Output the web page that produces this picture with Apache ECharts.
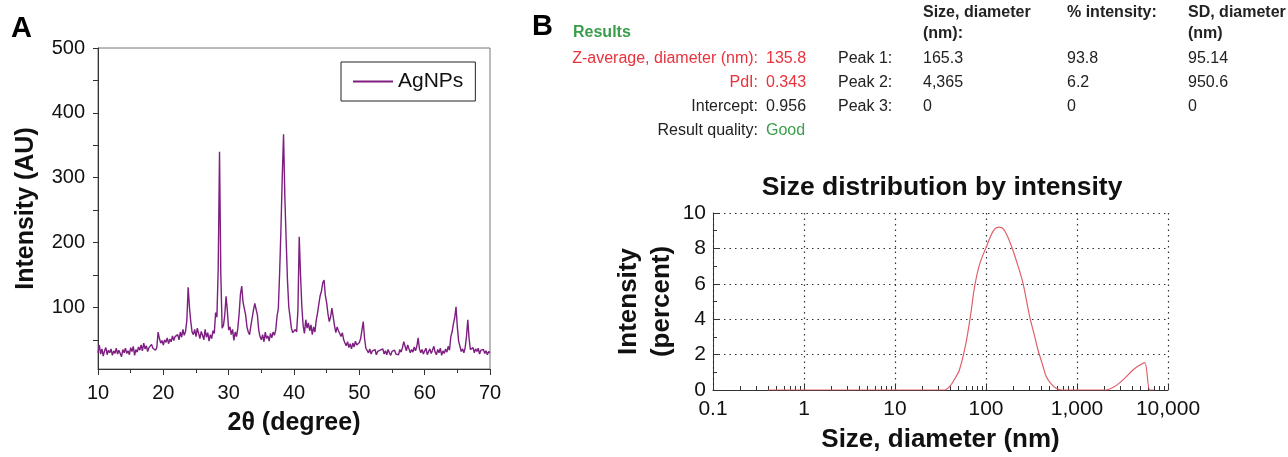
<!DOCTYPE html>
<html>
<head>
<meta charset="utf-8">
<script src="https://cdn.jsdelivr.net/npm/echarts@6/dist/echarts.min.js"></script>
<style>
  html, body { margin: 0; padding: 0; background: #fff; }
  #main { width: 1288px; height: 457px; }
</style>
</head>
<body>
<div id="main"></div>
<script>
// panel A: XRD pattern, one value every 0.2 degree from 10 to 70
var xrdStart = 10;
var xrdStep = 0.2;
var xrdIntensity = [
  30, 42, 28, 36, 25,   33, 38, 27, 34, 30,   // 10-11
  36, 26, 33, 29, 37,   28, 34, 31, 24, 35,   // 12-13
  30, 37, 29, 33, 27,   38, 32, 40, 26, 35,   // 14-15
  31, 39, 34, 42, 33,   45, 36, 41, 32, 38,   // 16-17
  35, 43, 37, 40, 34,   38, 62, 52, 45, 49,   // 18-19
  42, 50, 46, 53, 44,   51, 47, 56, 49, 55,   // 20-21
  52, 58, 50, 62, 54,   66, 57, 63, 80, 131,  // 22-23
  100, 78, 62, 58, 66,  55, 68, 60, 52, 63,   // 24-25
  57, 50, 66, 54, 61,   48, 58, 52, 64, 60,   // 26-27
  92, 85, 160, 340, 150, 68, 72, 88, 117, 95, // 28-29
  65, 70, 58, 66, 49,   62, 55, 68, 90, 120,  // 30-31
  133, 108, 106, 88, 70, 62, 58, 72, 84, 96,  // 32-33
  106, 109, 88, 65, 55, 50, 58, 47, 62, 52,   // 34-35
  56, 48, 60, 53, 62,   57, 65, 86, 98, 153,  // 36-37
  220, 300, 367, 270, 204, 142, 101, 85, 68, 61, // 38-39
  58, 66, 62, 95, 209,  150, 101, 72, 60, 81, // 40-41
  68, 76, 64, 73, 58,   70, 62, 80, 91, 105,  // 42-43
  118, 125, 138, 142, 118, 107, 90, 78, 85, 99, // 44-45
  96, 72, 61, 70, 64,   67, 55, 61, 50, 45,   // 46-47
  41, 47, 38, 44, 36,   45, 39, 48, 42, 40,   // 48-49
  46, 52, 65, 78, 52,   37, 34, 30, 36, 28,   // 50-51
  33, 30, 35, 27, 32,   29, 34, 31, 36, 28,   // 52-53
  33, 27, 35, 30, 26,   32, 29, 34, 28, 31,   // 54-55
  27, 35, 31, 38, 47,   40, 33, 42, 36, 30,   // 56-57
  35, 31, 39, 33, 40,   53, 36, 30, 35, 28,   // 58-59
  33, 37, 27, 32, 36,   29, 34, 40, 31, 27,   // 60-61
  35, 30, 37, 26, 33,   29, 36, 31, 40, 34,   // 62-63
  55, 62, 75, 84, 101,  70, 48, 40, 32, 36,   // 64-65
  30, 38, 55, 81, 52,   35, 33, 38, 30, 36,   // 66-67
  32, 37, 28, 34, 31,   35, 29, 33, 27, 32,   // 68-69
  30                                          // 70
];
var xrdTicks = [50, 100, 150, 200, 250, 300, 350, 400, 450, 500];
var xrdLabels = [100, 200, 300, 400, 500];

// panel B: DLS size distribution by intensity
var sizeNm = [0.4, 1, 10, 30, 35, 40, 45, 51, 60, 68, 75, 85, 101, 115, 125, 139, 155, 175, 198, 225, 255, 302, 340, 373, 420, 460, 520, 590, 680, 1000, 2100, 2600, 3200, 4120, 4800, 5550, 6300, 7000];
var intensityPct = [0, 0, 0, 0, 0, 0.2, 0.6, 1.13, 2.6, 4.3, 5.85, 7.1, 8.1, 8.8, 9.1, 9.2, 9.1, 8.6, 7.88, 7.0, 6.04, 4.15, 3.1, 2.26, 1.4, 0.75, 0.35, 0.1, 0, 0, 0, 0.2, 0.57, 1.13, 1.38, 1.55, 0, 0];
var sizeMinorTicks = [0.2, 0.3, 0.4, 0.5, 0.6, 0.7, 0.8, 0.9, 2, 3, 4, 5, 6, 7, 8, 9, 20, 30, 40, 50, 60, 70, 80, 90, 200, 300, 400, 500, 600, 700, 800, 900, 2000, 3000, 4000, 5000, 6000, 7000, 8000, 9000];

// results table
var resultLabels = ['Z-average, diameter (nm):', 'PdI:', 'Intercept:', 'Result quality:'];
var resultValues = ['135.8', '0.343', '0.956', 'Good'];
var peakNames = ['Peak 1:', 'Peak 2:', 'Peak 3:'];
var peakSize = ['165.3', '4,365', '0'];
var peakPct = ['93.8', '6.2', '0'];
var peakSD = ['95.14', '950.6', '0'];

var FONT = '"Liberation Sans", Arial, Helvetica, sans-serif';
var RED = '#e8323c';
var GREEN = '#3a9d4a';
var DARK = '#222';

var chart = echarts.init(document.getElementById('main'), null, { renderer: 'canvas' });

var xrdData = xrdIntensity.map(function (v, i) {
  return [+(xrdStart + i * xrdStep).toFixed(1), v];
});
var dlsData = sizeNm.map(function (s, i) {
  return [s, intensityPct[i]];
});

function txt(x, y, text, opt) {
  opt = opt || {};
  return {
    type: 'text',
    x: x,
    y: y,
    style: {
      text: text,
      fill: opt.color || DARK,
      font: (opt.bold ? 'bold ' : '') + (opt.size || 16) + 'px ' + FONT,
      textAlign: opt.align || 'left',
      textVerticalAlign: 'middle'
    }
  };
}

var graphics = [
  txt(11, 29, 'A', { bold: true, size: 29, color: '#000' }),
  txt(532, 27, 'B', { bold: true, size: 29, color: '#000' }),
  txt(573, 33, 'Results', { bold: true, color: GREEN }),
  txt(942, 188, 'Size distribution by intensity', { bold: true, size: 26.5, color: '#111', align: 'center' }),
  txt(923, 13, 'Size, diameter', { bold: true }),
  txt(923, 34, '(nm):', { bold: true }),
  txt(1067, 13, '% intensity:', { bold: true }),
  txt(1188, 13, 'SD, diameter', { bold: true }),
  txt(1188, 34, '(nm)', { bold: true })
];
var rowY = [59, 83, 107, 131];
resultLabels.forEach(function (lab, i) {
  var labColor = i < 2 ? RED : DARK;
  var valColor = i < 2 ? RED : (i === 3 ? GREEN : DARK);
  graphics.push(txt(758, rowY[i], lab, { color: labColor, align: 'right' }));
  graphics.push(txt(766, rowY[i], resultValues[i], { color: valColor }));
});
peakNames.forEach(function (p, i) {
  graphics.push(txt(838, rowY[i], p));
  graphics.push(txt(923, rowY[i], peakSize[i]));
  graphics.push(txt(1067, rowY[i], peakPct[i]));
  graphics.push(txt(1188, rowY[i], peakSD[i]));
});

var axisText = { color: '#111', fontSize: 20, fontFamily: FONT };
var nameText = { color: '#111', fontSize: 25, fontWeight: 'bold', fontFamily: FONT };

var option = {
  animation: false,
  backgroundColor: '#fff',
  textStyle: { fontFamily: FONT },
  graphic: graphics,
  legend: {
    data: [{ name: 'AgNPs', icon: 'rect' }],
    left: 341,
    top: 62,
    padding: [9, 12, 9, 12],
    borderColor: '#222',
    borderWidth: 1,
    itemWidth: 40,
    itemHeight: 2,
    itemGap: 6,
    textStyle: { fontSize: 21, color: '#111', fontFamily: FONT }
  },
  grid: [
    { left: 98, top: 48, width: 392, height: 321, show: true, borderColor: '#777', borderWidth: 1, backgroundColor: 'transparent' },
    { left: 713, top: 213, width: 455, height: 177 }
  ],
  xAxis: [
    {
      gridIndex: 0, type: 'value', min: 10, max: 70, interval: 10,
      name: '2θ (degree)', nameLocation: 'middle', nameGap: 42, nameTextStyle: nameText,
      axisLine: { lineStyle: { color: '#333', width: 1 } },
      axisTick: { length: 6, lineStyle: { color: '#333' } },
      minorTick: { show: true, splitNumber: 2, length: 4, lineStyle: { color: '#333' } },
      axisLabel: Object.assign({ margin: 14 }, axisText),
      splitLine: { show: false }
    },
    {
      gridIndex: 1, type: 'log', logBase: 10, min: 0.1, max: 10000,
      name: 'Size, diameter (nm)', nameLocation: 'middle', nameGap: 37,
      nameTextStyle: Object.assign({}, nameText, { fontSize: 26 }),
      axisLine: { lineStyle: { color: '#333', width: 1 } },
      axisTick: { inside: true, length: 6, lineStyle: { color: '#333' } },
      axisLabel: Object.assign({
        margin: 9,
        formatter: function (v) {
          if (v < 1) return String(v);
          return v.toLocaleString('en-US');
        }
      }, axisText, { fontSize: 21 }),
      splitLine: { show: true, lineStyle: { color: '#333', type: [1.5, 4], width: 1.2 } }
    },
    {
      gridIndex: 1, type: 'log', logBase: 10, min: 0.1, max: 10000, position: 'bottom', offset: 0,
      axisLine: { show: false },
      axisTick: { show: true, inside: true, length: 4, customValues: sizeMinorTicks, lineStyle: { color: '#333' } },
      axisLabel: { show: false },
      splitLine: { show: false }
    }
  ],
  yAxis: [
    {
      gridIndex: 0, type: 'value', min: 5, max: 500,
      name: 'Intensity (AU)', nameLocation: 'middle', nameGap: 59, nameTextStyle: nameText,
      axisLine: { show: true, lineStyle: { color: '#333', width: 1 } },
      axisTick: { show: true, length: 5, customValues: xrdTicks, lineStyle: { color: '#333' } },
      axisLabel: Object.assign({ margin: 13, customValues: xrdLabels }, axisText),
      splitLine: { show: false }
    },
    {
      gridIndex: 1, type: 'value', min: 0, max: 10, interval: 2,
      name: 'Intensity\n(percent)', nameLocation: 'middle', nameGap: 35,
      nameTextStyle: Object.assign({}, nameText, { fontSize: 26, lineHeight: 33 }),
      axisLine: { show: true, lineStyle: { color: '#333', width: 1 } },
      axisTick: { show: true, inside: true, length: 6, lineStyle: { color: '#333' } },
      minorTick: { show: true, splitNumber: 2, length: 4, lineStyle: { color: '#333' } },
      axisLabel: Object.assign({ margin: 7 }, axisText, { fontSize: 21 }),
      splitLine: { show: true, lineStyle: { color: '#333', type: [1.5, 4], width: 1.2 } }
    }
  ],
  series: [
    {
      name: 'AgNPs',
      type: 'line',
      xAxisIndex: 0,
      yAxisIndex: 0,
      symbol: 'none',
      data: xrdData,
      lineStyle: { color: '#7d1e80', width: 1.4 },
      itemStyle: { color: '#7d1e80' }
    },
    {
      name: 'Size distribution',
      type: 'line',
      xAxisIndex: 1,
      yAxisIndex: 1,
      symbol: 'none',
      smooth: 0.3,
      data: dlsData,
      lineStyle: { color: '#e0606a', width: 1.2 },
      itemStyle: { color: '#e0606a' }
    }
  ]
};

chart.setOption(option);
</script>
</body>
</html>
